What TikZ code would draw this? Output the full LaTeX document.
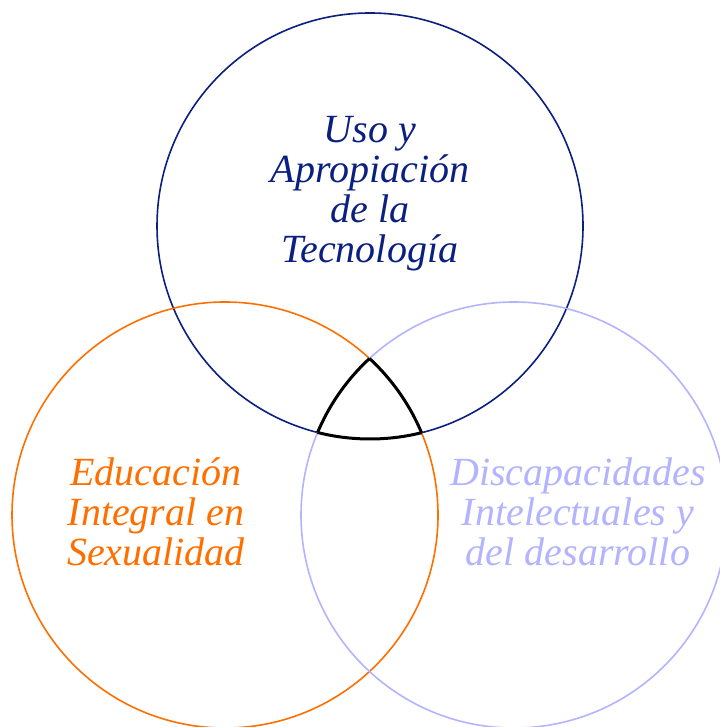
\documentclass[tikz,border=0pt]{standalone}
\usepackage{fontspec}
\setmainfont{Liberation Serif}
\definecolor{navyc}{HTML}{0A1F7F}
\definecolor{orangec}{HTML}{FF6F00}
\definecolor{lavc}{HTML}{B3B3FF}
\tikzset{
  ring/.style={line width=1.6pt},
  lbl/.style={align=center, inner sep=0pt, font=\fontsize{40}{40}\selectfont\itshape},
  core/.style={line width=3pt, black}
}
\begin{document}
\begin{tikzpicture}[x=1pt,y=1pt]
\useasboundingbox (0,0) rectangle (719,727);
\coordinate (ct) at (370,501);
\coordinate (cl) at (225,212);
\coordinate (cr) at (514,212);
\draw[ring, navyc] (ct) circle[radius=213];
\draw[ring, orangec] (cl) circle[radius=213];
\draw[ring, lavc] (cr) circle[radius=213];
\begin{scope}
  \clip (cl) circle[radius=213];
  \clip (cr) circle[radius=213];
  \draw[core] (ct) circle[radius=213];
\end{scope}
\begin{scope}
  \clip (ct) circle[radius=213];
  \clip (cr) circle[radius=213];
  \draw[core] (cl) circle[radius=213];
\end{scope}
\begin{scope}
  \clip (ct) circle[radius=213];
  \clip (cl) circle[radius=213];
  \draw[core] (cr) circle[radius=213];
\end{scope}
\node[lbl, text=navyc] (tt) at (370,533) {Uso y\\Apropiación\\de la\\Tecnología};
\node[lbl, text=orangec] (tl) at (156,215) {Educación\\Integral en\\Sexualidad};
\node[lbl, text=lavc] (tr) at (578,215) {Discapacidades\\Intelectuales y\\del desarrollo};
\end{tikzpicture}
\end{document}
